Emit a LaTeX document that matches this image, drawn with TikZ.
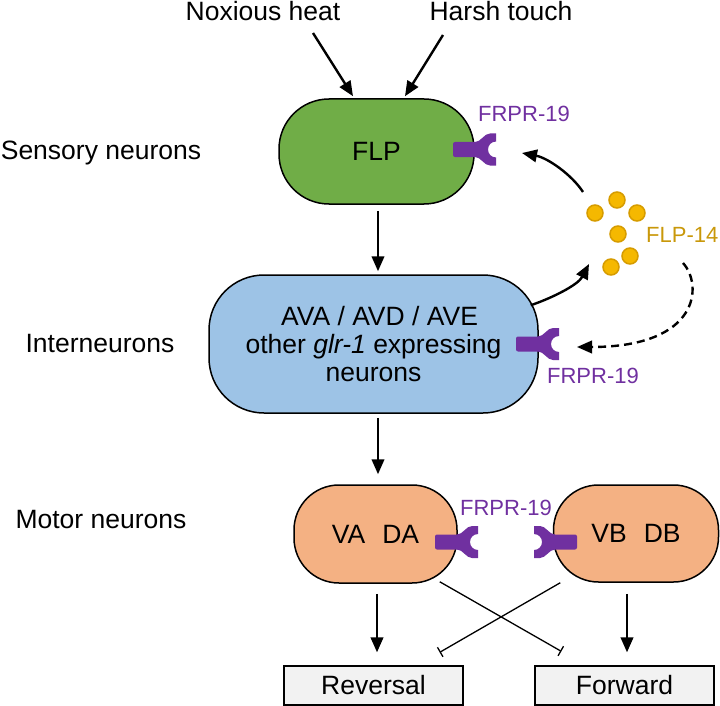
\documentclass[tikz,border=0pt]{standalone}
\usepackage{fontspec}
\setmainfont{Liberation Sans}
\usetikzlibrary{arrows.meta,calc}
\definecolor{flpgreen}{RGB}{112,173,71}
\definecolor{interblue}{RGB}{157,195,230}
\definecolor{motororange}{RGB}{244,177,131}
\definecolor{rpurple}{RGB}{112,48,160}
\definecolor{flpgold}{RGB}{201,152,10}
\definecolor{dotfill}{RGB}{245,184,0}
\definecolor{dotline}{RGB}{214,156,0}
\definecolor{boxgray}{RGB}{242,242,242}
\begin{document}
\begin{tikzpicture}[x=1pt,y=-1pt,
  big/.style={font=\fontsize{26.5}{28}\selectfont},
  small/.style={font=\fontsize{22}{24}\selectfont},
  cell/.style={draw=black, line width=1.5pt, inner sep=0pt, big, align=center},
  outbox/.style={draw=black, line width=1.3pt, fill=boxgray, inner sep=0pt, big, minimum width=179pt, minimum height=39pt},
  arr/.style={line width=2.4pt, -{Triangle[length=15pt,width=12.5pt]}},
  darr/.style={line width=2.4pt, dash pattern=on 8pt off 5pt, -{Triangle[length=15pt,width=12.5pt]}},
  inh/.style={line width=1.3pt, -{Bar[width=11pt,line width=1.3pt]}},
  dot/.style={fill=dotfill, draw=dotline, line width=1.5pt},
  rcp/.pic={
    \fill[rpurple, rounded corners=2pt] (-22,-7.5) rectangle (2,7.5);
    \fill[rpurple] (0,-7.5) .. controls (6,-7.5) and (9,-16) .. (15,-16) -- (21,-16) -- (21,-8)
      arc[start angle=-90, end angle=-270, radius=8] -- (21,16) -- (15,16)
      .. controls (9,16) and (6,7.5) .. (0,7.5) -- cycle;
  }]
\useasboundingbox (0,0) rectangle (720,706);

% boxes
\node[cell, rounded corners=50pt, fill=flpgreen, minimum width=195pt, minimum height=105pt] (flp) at (376.5,151.5) {FLP};
\node[cell, rounded corners=55pt, fill=interblue, minimum width=329pt, minimum height=138pt] (inter) at (373.5,344) {\hspace*{12pt}AVA / AVD / AVE\\other \textit{glr-1} expressing\\neurons};
\node[cell, rounded corners=45pt, fill=motororange, minimum width=163pt, minimum height=98pt] (vada) at (375.5,534) {\raisebox{-4pt}{VA\hspace{17pt}DA}};
\node[cell, rounded corners=45pt, fill=motororange, minimum width=165pt, minimum height=97pt] (vbdb) at (636,533.5) {\raisebox{-4pt}{VB\hspace{17pt}DB}};
\node[outbox] (rev) at (373.5,685.5) {Reversal};
\node[outbox] (fwd) at (624.5,685.5) {Forward};

% labels
\node[big, anchor=base] (nox) at (263,21) {Noxious heat};
\node[big, anchor=base] (harsh) at (501,21) {Harsh touch};
\node[big, anchor=base] (lsens) at (101,160) {Sensory neurons};
\node[big, anchor=base] (linter) at (100,352) {Interneurons};
\node[big, anchor=base] (lmotor) at (101,528) {Motor neurons};
\node[small, text=rpurple, anchor=base] (r1) at (524,122) {FRPR-19};
\node[small, text=rpurple, anchor=base] (r2) at (593,383) {FRPR-19};
\node[small, text=rpurple, anchor=base] (r3) at (506,515) {FRPR-19};
\node[small, text=flpgold, anchor=base west, inner sep=0pt] (flp14) at (646,242) {FLP-14};

% receptors
\pic at (475,149.5) {rcp};
\pic at (538,344) {rcp};
\pic at (457,542) {rcp};
\pic[xscale=-1] at (555,542) {rcp};

% peptide dots
\foreach \p in {(595,213),(617,200),(637,213),(618,234),(630,256),(611,267)}
  \draw[dot] \p circle[radius=8];

% coordinates for free ends
\coordinate (pepA) at (589,264);
\coordinate (pepB) at (583,192);
\coordinate (pepC) at (683,263);
\coordinate (flpR) at (522,153);
\coordinate (intR) at (577,347);

% arrows
\draw[arr] ($(nox.base)+(50,12)$) -- ($(flp.north)+(-23.5,-2)$);
\draw[arr] ($(harsh.base)+(-58,14)$) -- ($(flp.north)+(28.5,-2)$);
\draw[arr] ($(flp.south)+(1.5,6)$) -- ($(inter.north)+(4.5,-3)$);
\draw[arr] ($(inter.south)+(4.5,4)$) -- ($(vada.north)+(2.5,-10)$);
\draw[arr] ($(vada.south)+(1.5,10)$) -- ($(rev.north)+(3.5,-13)$);
\draw[arr] ($(vbdb.south)+(-9,11)$) -- ($(fwd.north)+(2.5,-13)$);

\draw[arr] ($(inter.north east)+(-8,31)$) .. controls (552,298) and (578,285) .. (pepA);
\draw[arr] (pepB) .. controls (572,175) and (548,158) .. (flpR);
\draw[darr] (pepC) .. controls (703,285) and (700,347) .. (intR);

% inhibitions
\draw[inh] ($(vada.south east)+(-18,-2)$) -- ($(fwd.north west)+(27,-14)$);
\draw[inh] ($(vbdb.south west)+(7.5,0)$) -- ($(rev.north east)+(-24,-13)$);
\end{tikzpicture}
\end{document}
